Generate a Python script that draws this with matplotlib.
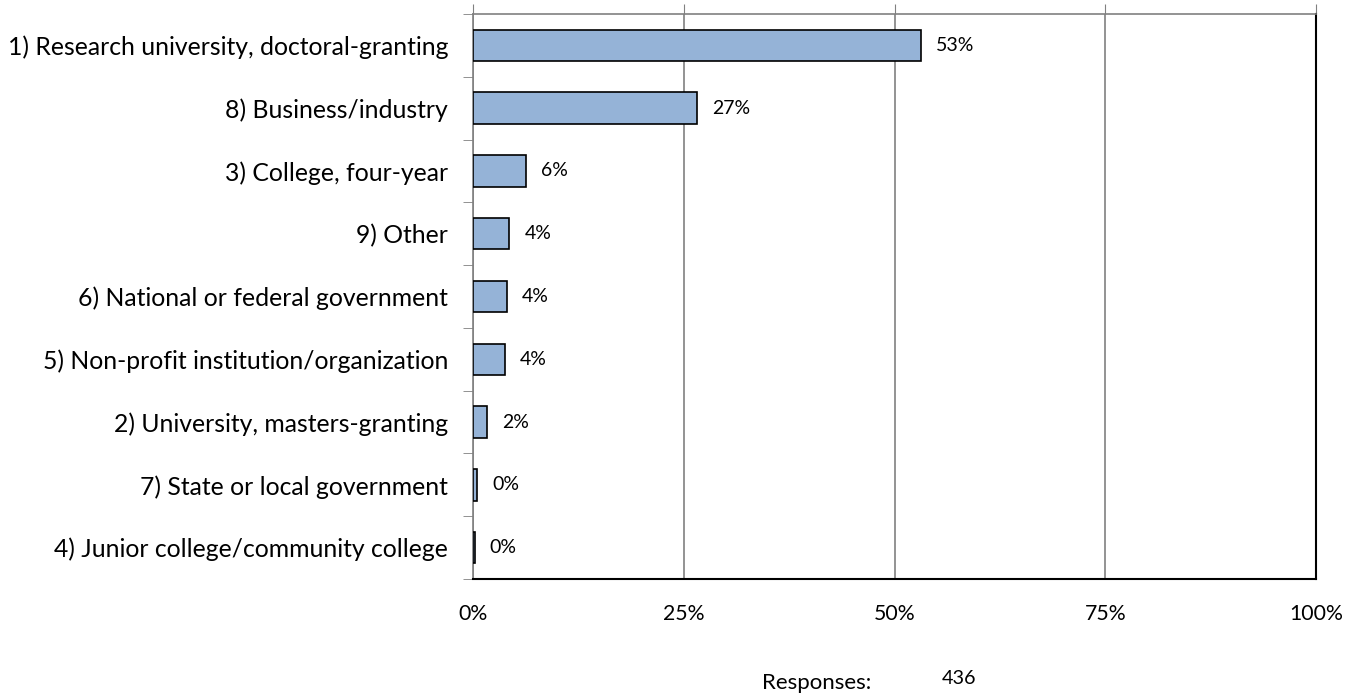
import matplotlib.pyplot as plt
from matplotlib.ticker import FixedLocator
import numpy as np

categories = [
    "1) Research university, doctoral-granting",
    "8) Business/industry",
    "3) College, four-year",
    "9) Other",
    "6) National or federal government",
    "5) Non-profit institution/organization",
    "2) University, masters-granting",
    "7) State or local government",
    "4) Junior college/community college",
]
shares = [0.531, 0.266, 0.0625, 0.043, 0.040, 0.038, 0.017, 0.005, 0.002]
bar_labels = ["53%", "27%", "6%", "4%", "4%", "4%", "2%", "0%", "0%"]
x_ticks = [0, 0.25, 0.5, 0.75, 1.0]
x_ticklabels = ["0%", "25%", "50%", "75%", "100%"]
responses = 436

plt.rcParams['font.family'] = ['Lato', 'DejaVu Sans']

fig = plt.figure(figsize=(13.57, 6.97), dpi=100)
ax = fig.add_axes([473 / 1357, 1 - 579 / 697, (1316 - 473) / 1357, (579 - 14) / 697])

n = len(categories)
y = np.arange(n)
ax.barh(y, shares, height=0.5, color="#95b3d7", edgecolor="black", linewidth=1.2, zorder=3)
for yi, v, lab in zip(y, shares, bar_labels):
    ax.text(v + 0.018, yi, lab, va="center", ha="left", fontsize=14)

ax.set_xlim(0, 1)
ax.set_ylim(n - 0.5, -0.5)
ax.set_xticks(x_ticks)
ax.set_xticklabels(x_ticklabels, fontsize=15.3)
ax.xaxis.set_ticks_position("top")
ax.tick_params(axis="x", which="major", direction="out", length=7, color="#808080",
               labeltop=False, labelbottom=True, pad=11)
ax.grid(axis="x", color="#808080", linewidth=1.2, zorder=0)

ax.set_yticks(y)
ax.set_yticklabels(categories, fontsize=17.8)
ax.yaxis.set_minor_locator(FixedLocator(np.arange(-0.5, n, 1.0)))
ax.tick_params(axis="y", which="major", length=0, pad=18)
ax.tick_params(axis="y", which="minor", length=7, color="#808080", direction="out")

ax.spines["left"].set_color("#808080")
ax.spines["top"].set_color("#808080")
for s in ["left", "top"]:
    ax.spines[s].set_linewidth(1.2)
for s in ["right", "bottom"]:
    ax.spines[s].set_color("black")
    ax.spines[s].set_linewidth(1.5)

fig.text(762 / 1357, 1 - 683 / 697, "Responses:", fontsize=16, va="center", ha="left")
fig.text(942 / 1357, 1 - 679 / 697, str(responses), fontsize=14.2, va="center", ha="left")

fig.savefig("out.png", dpi=100)
